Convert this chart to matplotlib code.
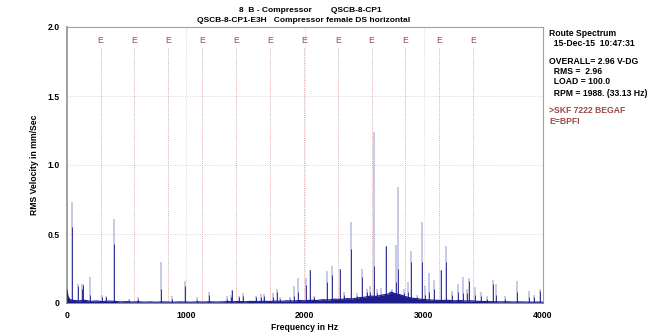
"""
Route spectrum plot - compressor QSCB-8-CP1, point E3H
Redraws the RMS velocity spectrum with BPFI markers
"""

import matplotlib
matplotlib.use('Agg')
import matplotlib.pyplot as plt

# Peaks: frequency (Hz), peak-hold top (light), average top (dark)
peak_hz = [47, 97, 130, 138, 196, 296, 330, 395, 520, 599, 789, 884, 996,
           1094, 1192, 1343, 1382, 1390, 1447, 1477, 1590, 1631, 1659, 1730,
           1763, 1790, 1875, 1908, 1942, 2009, 2043, 2079, 2188, 2230, 2297,
           2330, 2384, 2435, 2482, 2519, 2545, 2583, 2603, 2640, 2684, 2734,
           2762, 2782, 2830, 2863, 2891, 2940, 2983, 3006, 3042, 3084, 3146,
           3185, 3232, 3283, 3325, 3364, 3381, 3428, 3479, 3526, 3582, 3607,
           3680, 3781, 3882, 3924, 3976]
peak_hi = [0.73, 0.14, 0.14, 0.14, 0.19, 0.06, 0.05, 0.61, 0.03, 0.04, 0.30,
           0.05, 0.16, 0.04, 0.08, 0.05, 0.06, 0.095, 0.05, 0.07, 0.05, 0.065,
           0.065, 0.07, 0.10, 0.04, 0.04, 0.12, 0.18, 0.18, 0.24, 0.05, 0.235,
           0.27, 0.245, 0.08, 0.59, 0.07, 0.245, 0.10, 0.12, 1.24, 0.10, 0.11,
           0.415, 0.10, 0.42, 0.84, 0.10, 0.15, 0.38, 0.06, 0.585, 0.12, 0.22,
           0.17, 0.24, 0.41, 0.09, 0.14, 0.19, 0.10, 0.18, 0.115, 0.08, 0.05,
           0.165, 0.14, 0.05, 0.16, 0.09, 0.06, 0.10]
peak_lo = [0.55, 0.12, 0.10, 0.13, 0.06, 0.04, 0.04, 0.43, 0.02, 0.03, 0.10,
           0.03, 0.12, 0.02, 0.06, 0.03, 0.04, 0.095, 0.04, 0.05, 0.04, 0.04,
           0.05, 0.04, 0.08, 0.03, 0.03, 0.05, 0.08, 0.13, 0.24, 0.04, 0.15,
           0.20, 0.245, 0.06, 0.39, 0.05, 0.19, 0.08, 0.08, 0.27, 0.07, 0.06,
           0.415, 0.08, 0.15, 0.25, 0.07, 0.08, 0.30, 0.04, 0.30, 0.06, 0.08,
           0.10, 0.24, 0.30, 0.06, 0.08, 0.07, 0.07, 0.16, 0.06, 0.05, 0.03,
           0.14, 0.06, 0.03, 0.08, 0.04, 0.04, 0.09]

# Noise floor
floor_hz = [0, 10, 25, 50, 100, 150, 200, 250, 300, 350, 400, 450, 500, 550,
            600, 650, 700, 750, 800, 850, 900, 950, 1000, 1050, 1100, 1150,
            1200, 1250, 1300, 1350, 1400, 1450, 1500, 1550, 1600, 1650, 1700,
            1750, 1800, 1850, 1900, 1950, 2000, 2050, 2100, 2150, 2200, 2250,
            2300, 2350, 2400, 2450, 2500, 2550, 2600, 2650, 2700, 2725, 2750,
            2800, 2850, 2900, 2950, 3000, 3050, 3100, 3150, 3200, 3250, 3300,
            3350, 3400, 3450, 3500, 3550, 3600, 3650, 3700, 3750, 3800, 3850,
            3900, 3950, 4000]
floor_val = [0.10, 0.05, 0.025, 0.02, 0.015, 0.02, 0.012, 0.015, 0.01, 0.014,
             0.012, 0.008, 0.01, 0.007, 0.009, 0.006, 0.008, 0.006, 0.008,
             0.007, 0.006, 0.008, 0.007, 0.006, 0.008, 0.007, 0.009, 0.007,
             0.008, 0.01, 0.009, 0.011, 0.009, 0.012, 0.01, 0.013, 0.011,
             0.014, 0.012, 0.016, 0.014, 0.018, 0.016, 0.02, 0.018, 0.024,
             0.022, 0.028, 0.026, 0.032, 0.03, 0.038, 0.042, 0.05, 0.048,
             0.058, 0.065, 0.08, 0.07, 0.06, 0.045, 0.035, 0.03, 0.025, 0.022,
             0.02, 0.018, 0.02, 0.016, 0.018, 0.014, 0.016, 0.012, 0.011,
             0.01, 0.009, 0.008, 0.009, 0.007, 0.008, 0.007, 0.006, 0.007,
             0.006]

# BPFI harmonic markers (E)
bpfi_hz = 284.5
bpfi_orders = [1, 2, 3, 4, 5, 6, 7, 8, 9, 10, 11, 12]

x_ticks = [0, 1000, 2000, 3000, 4000]
y_ticks = [0, 0.5, 1.0, 1.5, 2.0]
y_tick_labels = ['0', '0.5', '1.0', '1.5', '2.0']

info_lines = ['Route Spectrum', '  15-Dec-15  10:47:31',
              'OVERALL= 2.96 V-DG', '  RMS =  2.96', '  LOAD = 100.0',
              '  RPM = 1988. (33.13 Hz)']
info_y = [33, 44, 61, 72, 82, 93]

DARK = '#1c1c8a'
LIGHT = '#b9b9e2'
RED = '#9a4a4a'
FS = 6.2

plt.rcParams['font.family'] = ['Liberation Sans', 'DejaVu Sans']
plt.rcParams['font.weight'] = 'bold'
plt.rcParams['font.size'] = FS

W, H = 654, 336
fig = plt.figure(figsize=(W / 100, H / 100), dpi=100)
ax = fig.add_axes([66.7 / W, 1 - 303 / H, (543 - 66.7) / W, (303 - 27) / H])

# grid
for gx in [1000, 2000, 3000]:
    ax.axvline(gx, color='#c8c8c8', lw=0.6, ls=(0, (1, 2)), zorder=0)
for gy in [0.5, 1.0, 1.5]:
    ax.axhline(gy, color='#c8c8c8', lw=0.6, ls=(0, (1, 2)), zorder=0)

# BPFI markers
for n in bpfi_orders:
    f = n * bpfi_hz
    ax.plot([f, f], [0, 1.85], color='#cf9090', lw=0.6, ls=(0, (1, 1.5)), zorder=1)
    ax.text(f, 1.90, 'E', color=RED, ha='center', va='center', fontsize=FS,
            fontweight='normal')

# spectrum
ax.vlines(peak_hz, 0, peak_hi, color=LIGHT, lw=1.1, zorder=2)
ax.vlines(peak_hz, 0, peak_lo, color=DARK, lw=0.6, zorder=3)
ax.fill_between(floor_hz, 0, floor_val, color=DARK, lw=0, zorder=3)
ax.plot(floor_hz, floor_val, color=DARK, lw=0.8, zorder=3)

ax.set_xlim(0, 4000)
ax.set_ylim(0, 2.0)
ax.set_xticks(x_ticks)
ax.set_yticks(y_ticks)
ax.set_yticklabels(y_tick_labels)
ax.tick_params(axis='both', length=0, pad=5, labelsize=FS)
ax.tick_params(axis='x', pad=6)
for s in ax.spines.values():
    s.set_color('#a0a0a0')
    s.set_linewidth(0.8)
ax.spines['left'].set_linewidth(1.4)
ax.spines['bottom'].set_visible(False)

ax.set_xlabel('Frequency in Hz', fontsize=FS, fontweight='bold', labelpad=2)
ax.set_ylabel('RMS Velocity in mm/Sec', fontsize=FS, fontweight='bold',
              labelpad=6)

# header
fig.text(310 / W, 1 - 11 / H, '8  B - Compressor        QSCB-8-CP1',
         ha='center', va='center', fontsize=6.0, fontweight='bold')
fig.text(304 / W, 1 - 20 / H, 'QSCB-8-CP1-E3H   Compressor female DS horizontal',
         ha='center', va='center', fontsize=6.0, fontweight='bold')

# side info
for line, yy in zip(info_lines, info_y):
    fig.text(549 / W, 1 - yy / H, line, ha='left', va='center', fontsize=FS,
             fontweight='bold')
fig.text(549 / W, 1 - 111 / H, '>SKF 7222 BEGAF', ha='left', va='center',
         fontsize=FS, fontweight='bold', color=RED)
fig.text(549 / W, 1 - 121 / H, 'E=BPFI', ha='left', va='center',
         fontsize=FS, fontweight='bold', color=RED)

fig.savefig('out.png', dpi=100)
